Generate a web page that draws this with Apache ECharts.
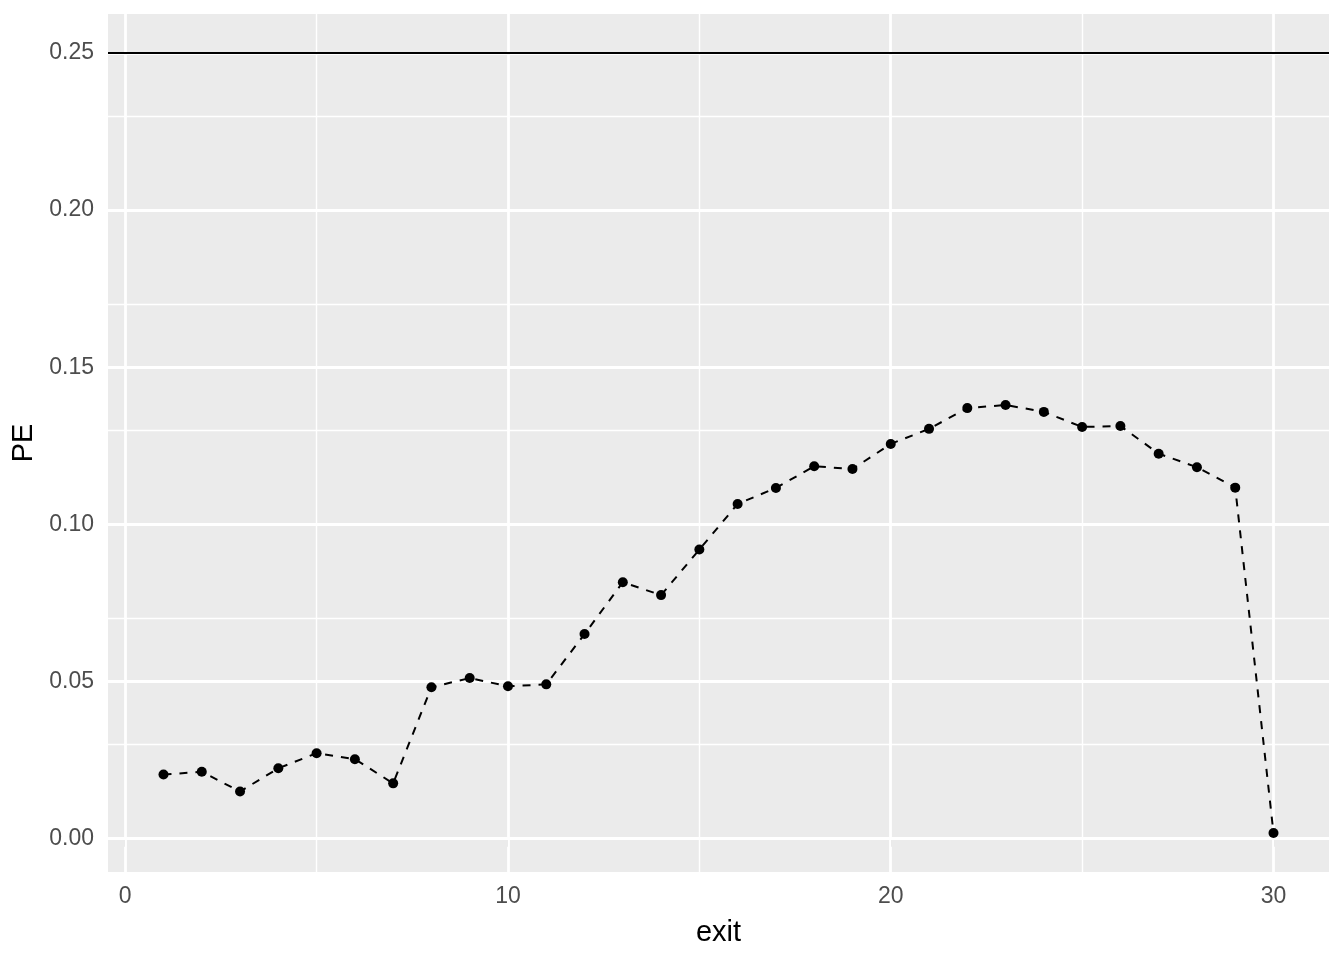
<!DOCTYPE html>
<html>
<head>
<meta charset="utf-8">
<script src="https://cdn.jsdelivr.net/npm/echarts@6/dist/echarts.min.js"></script>
<style>
html,body{margin:0;padding:0;background:#fff;}
#chart{width:1344px;height:960px;}
</style>
</head>
<body>
<div id="chart"></div>
<script>
const exitVals = [1,2,3,4,5,6,7,8,9,10,11,12,13,14,15,16,17,18,19,20,21,22,23,24,25,26,27,28,29,30];
const peVals = [0.0204,0.0213,0.0150,0.0224,0.0272,0.0253,0.0176,0.0482,0.0511,0.0485,0.0491,0.0651,0.0816,0.0775,0.0920,0.1065,0.1116,0.1185,0.1176,0.1256,0.1304,0.1370,0.1380,0.1358,0.1310,0.1313,0.1225,0.1182,0.1117,0.0018];
const refLine = 0.25;
const xMajor = [0,10,20,30];
const xMinor = [5,15,25];
const yMajor = [0,0.05,0.10,0.15,0.20,0.25];
const yMinor = [0.025,0.075,0.125,0.175,0.225];

const FONT = '"Liberation Sans", Arial, sans-serif';
const chart = echarts.init(document.getElementById('chart'), null, {renderer:'canvas'});

const gridLines = []
  .concat(xMinor.map(v => ({xAxis:v, lineStyle:{width:1.4}})))
  .concat(yMinor.map(v => ({yAxis:v, lineStyle:{width:1.4}})))
  .concat(xMajor.map(v => ({xAxis:v, lineStyle:{width:2.8}})))
  .concat(yMajor.map(v => ({yAxis:v, lineStyle:{width:2.8}})));

chart.setOption({
  animation:false,
  backgroundColor:'#ffffff',
  grid:{left:108,right:15,top:14,bottom:88,show:true,backgroundColor:'#EBEBEB',borderWidth:0},
  xAxis:{
    type:'value', min:-0.45, max:31.45,
    name:'exit', nameLocation:'middle', nameGap:46,
    nameTextStyle:{color:'#000',fontSize:29,fontFamily:FONT},
    axisLine:{show:false},
    axisTick:{show:true,length:8,lineStyle:{color:'#333333',width:2},customValues:xMajor},
    axisLabel:{color:'#4D4D4D',fontSize:23,fontFamily:FONT,margin:13,customValues:xMajor,formatter:v=>String(v)},
    splitLine:{show:false}
  },
  yAxis:{
    type:'value', min:-0.0106, max:0.2624,
    name:'PE', nameLocation:'middle', nameGap:62, nameRotate:90,
    nameTextStyle:{color:'#000',fontSize:29,fontFamily:FONT},
    axisLine:{show:false},
    axisTick:{show:true,length:8,lineStyle:{color:'#333333',width:2},customValues:yMajor},
    axisLabel:{color:'#4D4D4D',fontSize:23,fontFamily:FONT,margin:14,customValues:yMajor,formatter:v=>v.toFixed(2)},
    splitLine:{show:false}
  },
  series:[
    {
      type:'line', data:[], silent:true, z:1,
      markLine:{silent:true, symbol:['none','none'], label:{show:false}, z:1, animation:false,
        lineStyle:{color:'#FFFFFF',type:'solid'}, emphasis:{disabled:true},
        data:gridLines}
    },
    {
      type:'line', z:3,
      data: exitVals.map((x,i)=>[x,peVals[i]]),
      symbol:'circle', symbolSize:10, showSymbol:true,
      itemStyle:{color:'#000'},
      lineStyle:{color:'#000',width:2,type:[8,8]},
      markLine:{silent:true, symbol:['none','none'], label:{show:false}, animation:false,
        lineStyle:{color:'#000',type:'solid',width:2}, emphasis:{disabled:true},
        data:[{yAxis:refLine}]}
    }
  ]
});
</script>
</body>
</html>
